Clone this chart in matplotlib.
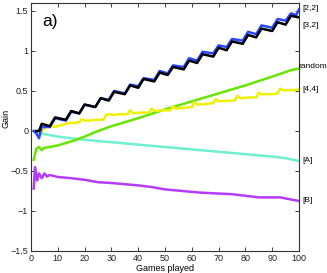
import matplotlib
matplotlib.use("Agg")
import matplotlib.pyplot as plt

plt.rcParams['font.family'] = ['Liberation Sans Narrow', 'Liberation Sans', 'DejaVu Sans']

# ---- data ----
black_x = [2, 3, 4, 7, 9, 13, 15, 18, 20, 24, 26, 29, 31, 35, 37, 40, 42, 46, 48,
           51, 53, 57, 59, 62, 64, 68, 70, 73, 75, 79, 81, 84, 86, 90, 92, 95, 97, 100]
black_y = [0.0, 0.0, 0.09, 0.06, 0.17, 0.14, 0.25, 0.22, 0.33, 0.30, 0.41, 0.38, 0.49,
           0.46, 0.57, 0.54, 0.65, 0.62, 0.73, 0.70, 0.80, 0.77, 0.88, 0.85, 0.96, 0.93,
           1.04, 1.01, 1.12, 1.09, 1.20, 1.17, 1.28, 1.25, 1.36, 1.33, 1.44, 1.42]

blue_x = [1, 2, 3, 4, 7, 9, 13, 15, 18, 20, 24, 26, 29, 31, 35, 37, 40, 42, 46, 48,
          51, 53, 57, 59, 62, 64, 68, 70, 73, 75, 79, 81, 84, 86, 90, 92, 95, 97, 99, 100]
blue_y = [0.0, -0.03, -0.09, 0.05, 0.05, 0.16, 0.13, 0.24, 0.22, 0.33, 0.30, 0.41, 0.39,
          0.50, 0.47, 0.58, 0.56, 0.66, 0.64, 0.75, 0.72, 0.82, 0.80, 0.91, 0.88, 0.99,
          0.97, 1.07, 1.05, 1.15, 1.13, 1.24, 1.21, 1.32, 1.29, 1.40, 1.38, 1.47, 1.45, 1.52]

green_x = [1, 2, 3, 4, 5, 7, 10, 13, 16, 20, 25, 30, 40, 50, 60, 70, 80, 90, 97, 100]
green_y = [-0.36, -0.22, -0.20, -0.24, -0.21, -0.20, -0.18, -0.15, -0.12, -0.07, 0.0,
           0.06, 0.16, 0.27, 0.37, 0.47, 0.57, 0.68, 0.76, 0.78]

yellow_x = [1, 2, 3, 4, 5, 6, 8, 10, 12, 14, 16, 18, 19, 20, 22, 24, 27, 28, 29, 31,
            33, 36, 37, 38, 41, 44, 45, 46, 50, 52, 53, 54, 57, 60, 61, 62, 66, 68, 69,
            70, 74, 76, 77, 78, 82, 84, 85, 86, 90, 92, 93, 94, 98, 100]
yellow_y = [0.0, -0.02, 0.0, 0.0, 0.03, 0.06, 0.05, 0.06, 0.08, 0.10, 0.10, 0.11, 0.15,
            0.13, 0.13, 0.14, 0.14, 0.20, 0.21, 0.20, 0.21, 0.21, 0.26, 0.22, 0.23, 0.23,
            0.28, 0.25, 0.26, 0.26, 0.31, 0.28, 0.29, 0.30, 0.36, 0.33, 0.34, 0.35, 0.40,
            0.37, 0.38, 0.38, 0.44, 0.41, 0.42, 0.42, 0.48, 0.46, 0.46, 0.47, 0.53, 0.51,
            0.51, 0.52]

cyan_x = [1, 2, 5, 10, 20, 30, 40, 50, 60, 70, 80, 90, 95, 100]
cyan_y = [0.0, -0.01, -0.04, -0.07, -0.11, -0.14, -0.17, -0.20, -0.23, -0.26, -0.29,
          -0.32, -0.34, -0.375]

purple_x = [1, 1.5, 2.3, 3, 4, 5, 6, 7, 10, 15, 20, 25, 30, 40, 45, 50, 63, 75, 85,
            93, 100]
purple_y = [-0.72, -0.45, -0.62, -0.53, -0.59, -0.53, -0.57, -0.55, -0.575, -0.59,
            -0.61, -0.64, -0.65, -0.68, -0.70, -0.73, -0.77, -0.79, -0.83, -0.83, -0.875]

series = [
    (cyan_x, cyan_y, '#6ff0d0', '[A]', -0.37),
    (purple_x, purple_y, '#b43cff', '[B]', -0.87),
    (green_x, green_y, '#66e600', 'random', 0.80),
    (yellow_x, yellow_y, '#f0f000', '[4,4]', 0.52),
    (blue_x, blue_y, '#2848ff', '[2,2]', 1.53),
    (black_x, black_y, '#000000', '[3,2]', 1.32),
]

xticks = [0, 10, 20, 30, 40, 50, 60, 70, 80, 90, 100]
yticks = [-1.5, -1, -0.5, 0, 0.5, 1, 1.5]
ytick_labels = ['\u22121.5', '\u22121', '\u22120.5', '0', '0.5', '1', '1.5']

fig = plt.figure(figsize=(3.27, 2.73), dpi=100)
ax = fig.add_axes([31 / 327, 1 - 251 / 273, 268 / 327, 248 / 273])

for xs, ys, col, lab, ly in series:
    ax.plot(xs, ys, color=col, lw=1.8, solid_joinstyle='round')

for xs, ys, col, lab, ly in series:
    xoff = 99.6 if lab == 'random' else 101.3
    ax.text(xoff, ly, lab, fontsize=6, va='center', ha='left', clip_on=False)

ax.set_xlim(0, 100)
ax.set_ylim(-1.5, 1.6)
ax.set_xticks(xticks)
ax.set_xticklabels([str(t) for t in xticks])
ax.set_yticks(yticks)
ax.set_yticklabels(ytick_labels)
ax.tick_params(direction='in', length=3, width=0.6, labelsize=6.5, top=True,
               right=True, pad=2, colors='#222222')
for s in ax.spines.values():
    s.set_linewidth(0.8)
    s.set_color('#333333')

ax.set_xlabel('Games played', fontsize=6.5, labelpad=1)
fig.text(6 / 327, 1 - 118 / 273, 'Gain', rotation=90, fontsize=6.5,
         ha='center', va='center')
ax.text(4.3, 1.37, 'a)', fontsize=12.5, ha='left', va='center')

fig.savefig('out.png', dpi=100)
